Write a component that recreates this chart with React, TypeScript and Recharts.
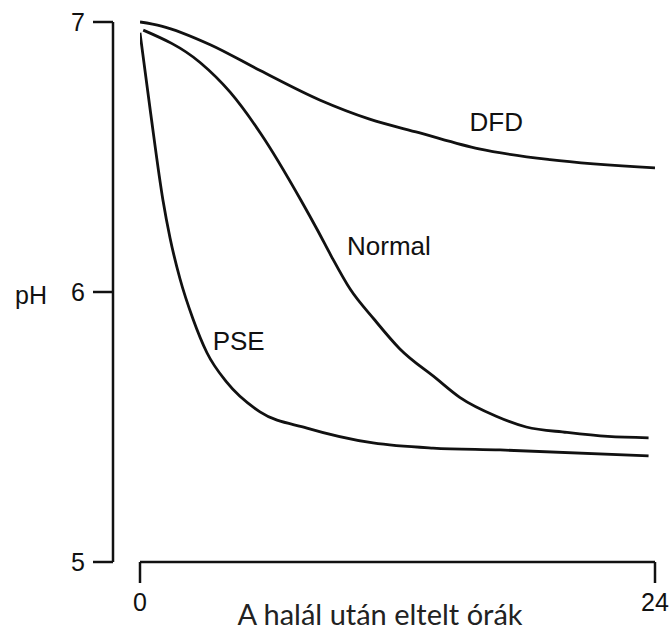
import React from 'react';
import { LineChart, Line, XAxis, YAxis, ReferenceLine, ReferenceDot } from 'recharts';

// Hours after death and pH values
const dfdHours = [0, 1, 3.3, 5.6, 8.4, 10.7, 13, 15.8, 19.1, 24];
const dfdPH = [7.0, 6.985, 6.915, 6.82, 6.71, 6.64, 6.59, 6.53, 6.49, 6.46];

const normalHours = [0.15, 2.8, 4.2, 5.6, 7.5, 8.3, 8.9, 9.8, 10.9, 12.1, 13.8, 14.9, 16.6, 18, 19.9, 21.8, 23.7];
const normalPH = [6.97, 6.85, 6.74, 6.59, 6.34, 6.225, 6.135, 6.01, 5.9, 5.79, 5.68, 5.61, 5.54, 5.5, 5.48, 5.465, 5.46];

const pseHours = [0, 0.5, 1.07, 1.4, 1.86, 2.47, 3.12, 4.05, 5.59, 7.78, 10.86, 13.65, 16.78, 23.7];
const psePH = [6.96, 6.66, 6.34, 6.2, 6.05, 5.9, 5.775, 5.665, 5.556, 5.496, 5.441, 5.422, 5.415, 5.393];

const xTicks = [0, 24];
const yTicks = [5, 6, 7];

const seriesNames = ['DFD', 'Normal', 'PSE'];
const labelHours = [16.6, 11.6, 4.6];
const labelPH = [6.63, 6.17, 5.82];

const xTitle = 'A halál után eltelt órák';
const yTitle = 'pH';

const toRows = (hours: number[], ph: number[]) => hours.map((h, i) => ({ h, ph: ph[i] }));

const dfdData = toRows(dfdHours, dfdPH);
const normalData = toRows(normalHours, normalPH);
const pseData = toRows(pseHours, psePH);

const FONT = '"Liberation Sans", Arial, sans-serif';
const INK = '#111';

export default function App() {
  return (
    <div style={{ position: 'absolute', left: 0, top: 0, background: '#fff' }}>
      <LineChart width={670} height={630} margin={{ top: 22, right: 15, bottom: 0, left: 0 }}>
        <XAxis
          dataKey="h"
          type="number"
          domain={[0, 24]}
          ticks={xTicks}
          allowDataOverflow
          padding={{ left: 27, right: 0 }}
          height={68}
          axisLine={false}
          tickSize={21}
          tickMargin={10}
          tickLine={{ stroke: INK, strokeWidth: 2.5 }}
          tick={{ fontSize: 25, fill: INK, fontFamily: FONT }}
          label={{
            value: xTitle,
            position: 'insideBottom',
            offset: 5,
            dx: -4,
            style: { fontSize: 29, fill: '#222', fontFamily: 'Lato, "Open Sans", sans-serif' },
          }}
        />
        <YAxis
          dataKey="ph"
          type="number"
          domain={[5, 7]}
          ticks={yTicks}
          width={113}
          tickSize={20}
          tickMargin={8}
          axisLine={{ stroke: INK, strokeWidth: 2.5 }}
          tickLine={{ stroke: INK, strokeWidth: 2.5 }}
          tick={{ fontSize: 25, fill: INK, fontFamily: FONT }}
          label={{
            value: yTitle,
            position: 'insideLeft',
            offset: 15,
            dy: 3,
            style: { fontSize: 25, fill: INK, fontFamily: FONT },
          }}
        />
        <ReferenceLine
          segment={[{ x: 0, y: 5 }, { x: 24, y: 5 }]}
          stroke={INK}
          strokeWidth={2.5}
          ifOverflow="visible"
        />
        <Line data={dfdData} dataKey="ph" type="monotone" stroke={INK} strokeWidth={2.8} dot={false} isAnimationActive={false} />
        <Line data={normalData} dataKey="ph" type="monotone" stroke={INK} strokeWidth={2.8} dot={false} isAnimationActive={false} />
        <Line data={pseData} dataKey="ph" type="monotone" stroke={INK} strokeWidth={2.8} dot={false} isAnimationActive={false} />
        {seriesNames.map((name, i) => (
          <ReferenceDot
            key={name}
            x={labelHours[i]}
            y={labelPH[i]}
            r={0}
            fill="none"
            stroke="none"
            ifOverflow="visible"
            label={{ value: name, position: 'center', style: { fontSize: 26, fill: INK, fontFamily: FONT } }}
          />
        ))}
      </LineChart>
    </div>
  );
}
